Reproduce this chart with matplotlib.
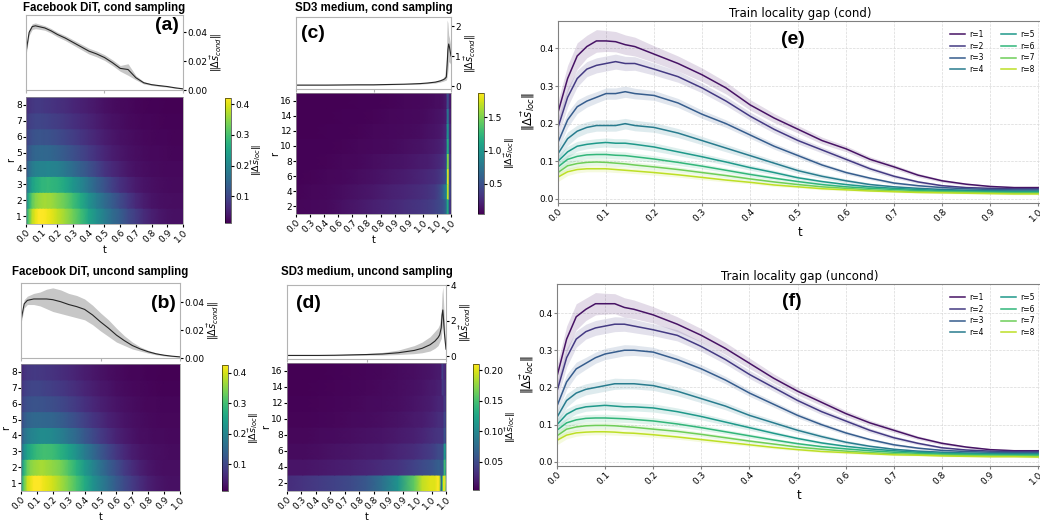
import numpy as np
import matplotlib
matplotlib.use("Agg")
import matplotlib.pyplot as plt

# ---------------------------------------------------------------------------
# data
# ---------------------------------------------------------------------------
t = [0.0, 0.02, 0.04, 0.06, 0.08, 0.10, 0.12, 0.14, 0.16, 0.20, 0.25, 0.30, 0.35,
     0.40, 0.45, 0.50, 0.55, 0.60, 0.65, 0.70, 0.75, 0.80, 0.85, 0.90, 0.95, 1.00]
radii = [1, 2, 3, 4, 5, 6, 7, 8]

# train locality gap, cond (also the DiT cond heatmap)
gap_cond_r1 = [0.23, 0.32, 0.38, 0.405, 0.42, 0.42, 0.418, 0.41, 0.405, 0.385, 0.36, 0.33, 0.295,
               0.25, 0.215, 0.185, 0.155, 0.133, 0.105, 0.085, 0.063, 0.048, 0.039, 0.033, 0.03, 0.03]
gap_cond_r2 = [0.19, 0.27, 0.32, 0.345, 0.355, 0.36, 0.365, 0.36, 0.36, 0.345, 0.325, 0.295, 0.26,
               0.22, 0.185, 0.155, 0.13, 0.105, 0.08, 0.06, 0.045, 0.035, 0.03, 0.028, 0.027, 0.027]
gap_cond_r3 = [0.15, 0.21, 0.245, 0.26, 0.27, 0.28, 0.28, 0.285, 0.28, 0.275, 0.255, 0.225, 0.2,
               0.17, 0.14, 0.115, 0.09, 0.07, 0.055, 0.042, 0.035, 0.03, 0.027, 0.025, 0.024, 0.024]
gap_cond_r4 = [0.12, 0.16, 0.18, 0.19, 0.195, 0.195, 0.195, 0.2, 0.195, 0.19, 0.175, 0.155, 0.135,
               0.115, 0.095, 0.075, 0.06, 0.048, 0.038, 0.032, 0.028, 0.025, 0.023, 0.022, 0.021, 0.021]
gap_cond_r5 = [0.10, 0.125, 0.14, 0.145, 0.148, 0.15, 0.148, 0.148, 0.145, 0.138, 0.125, 0.112, 0.098,
               0.083, 0.07, 0.056, 0.046, 0.038, 0.032, 0.028, 0.025, 0.022, 0.021, 0.02, 0.019, 0.019]
gap_cond_r6 = [0.085, 0.105, 0.113, 0.117, 0.118, 0.118, 0.116, 0.115, 0.112, 0.106, 0.097, 0.087, 0.076,
               0.065, 0.055, 0.046, 0.038, 0.032, 0.028, 0.025, 0.022, 0.02, 0.019, 0.018, 0.017, 0.017]
gap_cond_r7 = [0.07, 0.088, 0.094, 0.097, 0.098, 0.097, 0.095, 0.093, 0.09, 0.085, 0.078, 0.07, 0.062,
               0.053, 0.045, 0.038, 0.032, 0.028, 0.024, 0.021, 0.019, 0.018, 0.017, 0.016, 0.015, 0.015]
gap_cond_r8 = [0.058, 0.072, 0.078, 0.08, 0.08, 0.08, 0.078, 0.076, 0.074, 0.07, 0.064, 0.057, 0.05,
               0.044, 0.037, 0.032, 0.027, 0.024, 0.021, 0.019, 0.017, 0.016, 0.015, 0.014, 0.013, 0.013]

# train locality gap, uncond (also the DiT uncond heatmap)
gap_uncond_r1 = [0.23, 0.33, 0.39, 0.41, 0.425, 0.425, 0.425, 0.415, 0.41, 0.395, 0.37, 0.34, 0.305,
                 0.265, 0.225, 0.19, 0.16, 0.13, 0.105, 0.085, 0.065, 0.05, 0.04, 0.033, 0.03, 0.03]
gap_uncond_r2 = [0.19, 0.28, 0.33, 0.35, 0.36, 0.365, 0.37, 0.37, 0.365, 0.355, 0.34, 0.31, 0.275,
                 0.235, 0.2, 0.165, 0.135, 0.11, 0.085, 0.065, 0.05, 0.038, 0.032, 0.029, 0.028, 0.028]
gap_uncond_r3 = [0.15, 0.215, 0.25, 0.265, 0.28, 0.29, 0.295, 0.3, 0.3, 0.295, 0.275, 0.25, 0.22,
                 0.185, 0.155, 0.125, 0.1, 0.078, 0.06, 0.046, 0.037, 0.031, 0.028, 0.026, 0.025, 0.025]
gap_uncond_r4 = [0.12, 0.165, 0.185, 0.195, 0.2, 0.205, 0.21, 0.21, 0.21, 0.205, 0.19, 0.17, 0.15,
                 0.125, 0.105, 0.085, 0.068, 0.053, 0.042, 0.034, 0.029, 0.026, 0.024, 0.023, 0.022, 0.022]
gap_uncond_r5 = [0.10, 0.128, 0.142, 0.148, 0.15, 0.152, 0.15, 0.148, 0.148, 0.145, 0.135, 0.122, 0.107,
                 0.092, 0.077, 0.063, 0.051, 0.042, 0.035, 0.03, 0.026, 0.023, 0.022, 0.021, 0.02, 0.02]
gap_uncond_r6 = [0.085, 0.105, 0.113, 0.117, 0.118, 0.118, 0.117, 0.116, 0.114, 0.11, 0.102, 0.092, 0.081,
                 0.07, 0.059, 0.049, 0.041, 0.035, 0.03, 0.026, 0.023, 0.021, 0.02, 0.019, 0.018, 0.018]
gap_uncond_r7 = [0.07, 0.088, 0.094, 0.097, 0.098, 0.098, 0.097, 0.095, 0.093, 0.088, 0.082, 0.074, 0.065,
                 0.056, 0.048, 0.04, 0.034, 0.029, 0.025, 0.022, 0.02, 0.018, 0.017, 0.016, 0.016, 0.015]
gap_uncond_r8 = [0.058, 0.072, 0.078, 0.08, 0.081, 0.081, 0.08, 0.078, 0.077, 0.073, 0.067, 0.06, 0.053,
                 0.046, 0.039, 0.033, 0.028, 0.025, 0.022, 0.019, 0.018, 0.016, 0.015, 0.014, 0.014, 0.013]

# spread of the shaded bands (same for cond / uncond)
gap_std_r1 = [0.03, 0.035, 0.035, 0.03, 0.03, 0.028, 0.027, 0.026, 0.025, 0.022, 0.02, 0.018, 0.016,
              0.014, 0.012, 0.01, 0.009, 0.008, 0.007, 0.006, 0.005, 0.004, 0.003, 0.003, 0.003, 0.003]
gap_std_r2 = [0.025, 0.025, 0.022, 0.02, 0.02, 0.02, 0.02, 0.019, 0.018, 0.016, 0.015, 0.013, 0.012,
              0.011, 0.01, 0.009, 0.008, 0.007, 0.006, 0.005, 0.004, 0.003, 0.003, 0.003, 0.003, 0.003]
gap_std_r3 = [0.02, 0.02, 0.018, 0.016, 0.015, 0.015, 0.015, 0.015, 0.014, 0.013, 0.012, 0.011, 0.01,
              0.009, 0.008, 0.007, 0.006, 0.005, 0.004, 0.004, 0.003, 0.003, 0.003, 0.003, 0.003, 0.003]
gap_std_r4 = [0.018, 0.018, 0.016, 0.015, 0.015, 0.015, 0.015, 0.014, 0.014, 0.013, 0.012, 0.011, 0.01,
              0.009, 0.008, 0.007, 0.006, 0.005, 0.004, 0.003, 0.003, 0.003, 0.003, 0.002, 0.002, 0.002]
gap_std_r5 = [0.016, 0.015, 0.013, 0.012, 0.012, 0.012, 0.012, 0.012, 0.011, 0.011, 0.01, 0.009, 0.008,
              0.007, 0.006, 0.005, 0.004, 0.004, 0.003, 0.003, 0.003, 0.002, 0.002, 0.002, 0.002, 0.002]
gap_std_r6 = [0.014, 0.012, 0.011, 0.01, 0.01, 0.01, 0.01, 0.01, 0.009, 0.009, 0.008, 0.007, 0.006,
              0.006, 0.005, 0.004, 0.004, 0.003, 0.003, 0.002, 0.002, 0.002, 0.002, 0.002, 0.002, 0.002]
gap_std_r7 = [0.013, 0.011, 0.01, 0.009, 0.009, 0.009, 0.009, 0.008, 0.008, 0.008, 0.007, 0.006, 0.006,
              0.005, 0.004, 0.004, 0.003, 0.003, 0.003, 0.002, 0.002, 0.002, 0.002, 0.002, 0.002, 0.002]
gap_std_r8 = [0.012, 0.01, 0.009, 0.008, 0.008, 0.008, 0.008, 0.007, 0.007, 0.007, 0.006, 0.006, 0.005,
              0.004, 0.004, 0.003, 0.003, 0.003, 0.002, 0.002, 0.002, 0.002, 0.002, 0.002, 0.002, 0.002]

gap_cond = [gap_cond_r1, gap_cond_r2, gap_cond_r3, gap_cond_r4,
            gap_cond_r5, gap_cond_r6, gap_cond_r7, gap_cond_r8]
gap_uncond = [gap_uncond_r1, gap_uncond_r2, gap_uncond_r3, gap_uncond_r4,
              gap_uncond_r5, gap_uncond_r6, gap_uncond_r7, gap_uncond_r8]
gap_std = [gap_std_r1, gap_std_r2, gap_std_r3, gap_std_r4,
           gap_std_r5, gap_std_r6, gap_std_r7, gap_std_r8]

# DiT conditional score gap
dit_cond_mean = [0.026, 0.04, 0.044, 0.0445, 0.044, 0.0435, 0.043, 0.042, 0.041, 0.0385, 0.036, 0.033, 0.03,
                 0.027, 0.025, 0.0225, 0.019, 0.015, 0.0142, 0.0085, 0.005, 0.0037, 0.003, 0.0024, 0.0015, 0.0008]
dit_cond_std = [0.002, 0.002, 0.002, 0.002, 0.0018, 0.0017, 0.0016, 0.0016, 0.0016, 0.0016, 0.0017, 0.0018, 0.0019,
                0.002, 0.002, 0.002, 0.002, 0.002, 0.004, 0.0015, 0.0008, 0.0005, 0.0005, 0.0004, 0.0003, 0.0002]
dit_uncond_mean = [0.027, 0.039, 0.0415, 0.042, 0.0425, 0.0425, 0.0425, 0.0425, 0.0425, 0.042, 0.0405, 0.0385, 0.037,
                   0.035, 0.031, 0.026, 0.0215, 0.0165, 0.0125, 0.009, 0.0065, 0.0045, 0.003, 0.002, 0.0013, 0.0008]
dit_uncond_std = [0.002, 0.003, 0.003, 0.0035, 0.004, 0.0045, 0.005, 0.006, 0.007, 0.0085, 0.0085, 0.008, 0.008,
                  0.0075, 0.007, 0.0065, 0.006, 0.005, 0.0035, 0.0025, 0.0015, 0.001, 0.0007, 0.0005, 0.0003, 0.0002]

# SD3 (x is the sampling-step position, labels are the actual t values)
sd3_x = [0.0, 0.1, 0.2, 0.3, 0.4, 0.5, 0.6, 0.7, 0.8, 0.85, 0.9, 0.93, 0.95, 0.96, 0.97,
         0.975, 0.98, 0.985, 0.99, 1.0]
sd3_tick_labels = ["0.0", "0.3", "0.4", "0.6", "0.7", "0.8", "0.8", "0.9", "0.9", "1.0", "1.0", "1.0"]
sd3_radii = [2, 4, 6, 8, 10, 12, 14, 16]

sd3_cond_mean = [0.03, 0.03, 0.03, 0.035, 0.04, 0.04, 0.05, 0.06, 0.08, 0.1, 0.13, 0.17, 0.21, 0.24, 0.3,
                 0.7, 1.2, 1.4, 1.3, 1.0]
sd3_cond_lo = [0.02, 0.02, 0.02, 0.025, 0.03, 0.03, 0.04, 0.05, 0.06, 0.08, 0.1, 0.13, 0.16, 0.18, 0.2,
               0.3, 0.5, 0.8, 0.8, 0.7]
sd3_cond_hi = [0.04, 0.04, 0.04, 0.045, 0.05, 0.05, 0.06, 0.07, 0.1, 0.12, 0.16, 0.21, 0.27, 0.35, 0.9,
               2.2, 2.1, 1.7, 1.6, 1.3]
sd3_uncond_mean = [0.05, 0.05, 0.05, 0.06, 0.08, 0.1, 0.13, 0.2, 0.33, 0.45, 0.65, 0.85, 1.05, 1.2, 1.6,
                   2.3, 2.6, 2.0, 1.3, 0.4]
sd3_uncond_lo = [0.04, 0.04, 0.04, 0.04, 0.05, 0.06, 0.07, 0.1, 0.15, 0.2, 0.3, 0.45, 0.6, 0.8, 1.0,
                 1.5, 1.8, 1.3, 0.8, 0.3]
sd3_uncond_hi = [0.06, 0.06, 0.07, 0.09, 0.12, 0.16, 0.22, 0.35, 0.6, 0.8, 1.1, 1.4, 1.6, 1.8, 2.5,
                 3.5, 3.9, 3.0, 2.0, 0.5]

sd3_cond_map = [
    [0.07, 0.08, 0.09, 0.12, 0.16, 0.2, 0.24, 0.28, 0.32, 0.35, 0.4, 0.45, 0.5, 0.55, 0.7, 0.9, 1.2, 1.0, 0.4, 0.25],
    [0.06, 0.07, 0.08, 0.1, 0.13, 0.16, 0.2, 0.23, 0.27, 0.3, 0.35, 0.45, 0.6, 0.75, 0.8, 1.2, 1.8, 1.6, 0.5, 0.3],
    [0.05, 0.06, 0.07, 0.08, 0.1, 0.12, 0.15, 0.18, 0.22, 0.25, 0.28, 0.33, 0.4, 0.45, 0.5, 1.2, 1.87, 1.7, 0.45, 0.3],
    [0.05, 0.05, 0.06, 0.07, 0.08, 0.1, 0.12, 0.14, 0.17, 0.19, 0.22, 0.26, 0.3, 0.35, 0.4, 1.0, 1.6, 1.5, 0.4, 0.25],
    [0.05, 0.05, 0.05, 0.06, 0.07, 0.08, 0.09, 0.11, 0.13, 0.15, 0.17, 0.2, 0.24, 0.28, 0.32, 0.8, 1.2, 1.1, 0.35, 0.2],
    [0.04, 0.04, 0.05, 0.05, 0.06, 0.07, 0.08, 0.09, 0.1, 0.12, 0.14, 0.16, 0.2, 0.22, 0.25, 0.7, 1.0, 0.9, 0.3, 0.2],
    [0.04, 0.04, 0.04, 0.05, 0.05, 0.06, 0.07, 0.08, 0.09, 0.1, 0.12, 0.14, 0.16, 0.18, 0.2, 0.5, 0.8, 0.7, 0.25, 0.15],
    [0.04, 0.04, 0.04, 0.04, 0.05, 0.05, 0.06, 0.07, 0.08, 0.09, 0.1, 0.11, 0.13, 0.15, 0.17, 0.35, 0.5, 0.45, 0.2, 0.12],
]
sd3_uncond_map = [
    [0.03, 0.035, 0.04, 0.045, 0.05, 0.06, 0.08, 0.11, 0.16, 0.19, 0.2, 0.2, 0.21, 0.2, 0.1, 0.06, 0.15, 0.2, 0.21, 0.15],
    [0.015, 0.015, 0.017, 0.02, 0.022, 0.025, 0.03, 0.035, 0.045, 0.05, 0.055, 0.06, 0.065, 0.065, 0.06, 0.06, 0.06, 0.08, 0.15, 0.1],
    [0.01, 0.01, 0.012, 0.014, 0.016, 0.018, 0.02, 0.025, 0.03, 0.035, 0.04, 0.045, 0.05, 0.05, 0.05, 0.05, 0.05, 0.06, 0.12, 0.08],
    [0.008, 0.008, 0.009, 0.01, 0.012, 0.013, 0.015, 0.018, 0.022, 0.025, 0.03, 0.033, 0.035, 0.035, 0.035, 0.035, 0.035, 0.04, 0.06, 0.04],
    [0.006, 0.006, 0.007, 0.008, 0.009, 0.01, 0.012, 0.014, 0.018, 0.02, 0.024, 0.027, 0.03, 0.03, 0.03, 0.03, 0.03, 0.035, 0.05, 0.035],
    [0.005, 0.005, 0.006, 0.007, 0.008, 0.009, 0.01, 0.012, 0.015, 0.017, 0.02, 0.023, 0.025, 0.025, 0.025, 0.025, 0.025, 0.03, 0.04, 0.03],
    [0.004, 0.004, 0.005, 0.006, 0.007, 0.008, 0.009, 0.011, 0.013, 0.015, 0.018, 0.02, 0.022, 0.022, 0.022, 0.03, 0.04, 0.035, 0.035, 0.025],
    [0.004, 0.004, 0.004, 0.005, 0.006, 0.007, 0.008, 0.01, 0.012, 0.013, 0.015, 0.017, 0.018, 0.018, 0.02, 0.035, 0.045, 0.03, 0.03, 0.02],
]

W, H = 1040, 521
TITLE_FONT = ["Liberation Sans", "DejaVu Sans"]
LOC_LABEL = r"$\|\Delta\vec{s}_{loc}\|$"
COND_LABEL = r"$\|\Delta\vec{s}_{cond}\|$"
SMALL = 6.5


def box(x0, y0, x1, y1):
    """pixel box (top-left origin) -> figure fraction rect"""
    return [x0 / W, 1 - y1 / H, (x1 - x0) / W, (y1 - y0) / H]


def row_heatmap(ax, xs, rows, rvals, half):
    """one gouraud strip per row: smooth along x, sharp between rows"""
    vmin = min(min(r) for r in rows)
    vmax = max(max(r) for r in rows)
    mesh = None
    for r, vals in zip(rvals, rows):
        X = np.array([xs, xs])
        Y = np.array([[r - half] * len(xs), [r + half] * len(xs)])
        C = np.array([vals, vals])
        mesh = ax.pcolormesh(X, Y, C, shading="gouraud", cmap="viridis",
                             vmin=vmin, vmax=vmax, antialiased=False, edgecolors="none")
    return mesh


def style_line_ax(ax):
    for s in ax.spines.values():
        s.set_color("0.7")
        s.set_linewidth(0.8)
    ax.yaxis.tick_right()
    ax.yaxis.set_label_position("right")
    ax.tick_params(axis="x", labelbottom=False, length=2, color="0.7")
    ax.tick_params(axis="y", labelsize=SMALL, length=2, pad=1)
    ax.set_xlim(0, 1)


def style_heat_ax(ax, cbar_ax, mesh, cbar_ticks):
    for s in ax.spines.values():
        s.set_linewidth(0.5)
        s.set_color("0.6")
    ax.tick_params(labelsize=SMALL, length=2, pad=1)
    plt.setp(ax.get_xticklabels(), rotation=45, ha="right", rotation_mode="anchor")
    ax.set_xlabel("t", fontsize=7, labelpad=0)
    ax.set_ylabel("r", fontsize=7, labelpad=0)
    cb = plt.colorbar(mesh, cax=cbar_ax)
    cb.set_ticks(cbar_ticks)
    cb.ax.tick_params(labelsize=SMALL, length=2, pad=1)
    cb.outline.set_linewidth(0.4)
    cb.set_label(LOC_LABEL, fontsize=6.8, labelpad=0.5)


fig = plt.figure(figsize=(10.4, 5.21), dpi=100)

# ========================================================================
# Facebook DiT panels (a) / (b)
# ========================================================================
dit_panels = [
    ("Facebook DiT, cond sampling", "(a)", dit_cond_mean, dit_cond_std, gap_cond,
     (26, 15, 183, 90), (26, 97, 183, 224), (225, 98, 231, 223), 0.052, 8, (167, 26)),
    ("Facebook DiT, uncond sampling", "(b)", dit_uncond_mean, dit_uncond_std, gap_uncond,
     (21, 283, 180, 358), (21, 364, 180, 491), (222, 365, 228, 491), 0.054, 272, (163, 304)),
]
for title, tag, mean, std, gap, lbox, hbox, cbox, ytop, ytitle, tagpos in dit_panels:
    ax_l = fig.add_axes(box(*lbox))
    mean = np.array(mean)
    std = np.array(std)
    ax_l.fill_between(t, mean - std, mean + std, color="0.78", lw=0)
    ax_l.plot(t, mean, color="0.15", lw=0.8)
    style_line_ax(ax_l)
    ax_l.set_ylim(0, ytop)
    ax_l.set_yticks([0.0, 0.02, 0.04])
    ax_l.set_ylabel(COND_LABEL, fontsize=7, labelpad=1)

    ax_h = fig.add_axes(box(*hbox))
    mesh = row_heatmap(ax_h, t, gap, radii, 0.5)
    ax_h.set_xlim(0, 1)
    ax_h.set_ylim(0.5, 8.5)
    ax_h.set_xticks(np.round(np.arange(0, 1.01, 0.1), 1))
    ax_h.set_yticks(radii)
    cax = fig.add_axes(box(*cbox))
    style_heat_ax(ax_h, cax, mesh, [0.1, 0.2, 0.3, 0.4])

    fig.text((lbox[0] + lbox[2]) / 2 / W, 1 - ytitle / H, title, ha="center", va="center",
             fontsize=8.3, fontweight="bold", family=TITLE_FONT)
    fig.text(tagpos[0] / W, 1 - tagpos[1] / H, tag, ha="center", va="center",
             fontsize=14, fontweight="bold", family=TITLE_FONT)

# ========================================================================
# SD3 panels (c) / (d)
# ========================================================================
sd3_panels = [
    ("SD3 medium, cond sampling", "(c)", sd3_cond_mean, sd3_cond_lo, sd3_cond_hi, sd3_cond_map,
     (296, 17, 451, 89), (296, 93, 451, 214), (478, 93, 484, 214), (-0.1, 2.3), [0, 1, 2],
     [0.5, 1.0, 1.5], 8, (313, 33)),
    ("SD3 medium, uncond sampling", "(d)", sd3_uncond_mean, sd3_uncond_lo, sd3_uncond_hi, sd3_uncond_map,
     (287, 285, 446, 359), (287, 363, 446, 491), (473, 364, 479, 490), (-0.15, 4.0), [0, 2, 4],
     [0.05, 0.10, 0.15, 0.20], 272, (308, 303)),
]
for (title, tag, mean, lo, hi, hmap, lbox, hbox, cbox, ylim, yticks,
     cticks, ytitle, tagpos) in sd3_panels:
    ax_l = fig.add_axes(box(*lbox))
    ax_l.fill_between(sd3_x, lo, hi, color="0.78", lw=0)
    ax_l.plot(sd3_x, mean, color="0.15", lw=0.8)
    style_line_ax(ax_l)
    ax_l.set_ylim(*ylim)
    ax_l.set_yticks(yticks)
    ax_l.set_ylabel(COND_LABEL, fontsize=7, labelpad=1)

    ax_h = fig.add_axes(box(*hbox))
    mesh = row_heatmap(ax_h, sd3_x, hmap, sd3_radii, 1.0)
    ax_h.set_xlim(0, 1)
    ax_h.set_ylim(1, 17)
    ax_h.set_xticks(np.linspace(0, 1, len(sd3_tick_labels)))
    ax_h.set_xticklabels(sd3_tick_labels)
    ax_h.set_yticks(sd3_radii)
    cax = fig.add_axes(box(*cbox))
    style_heat_ax(ax_h, cax, mesh, cticks)

    fig.text((lbox[0] + lbox[2]) / 2 / W, 1 - ytitle / H, title, ha="center", va="center",
             fontsize=8.3, fontweight="bold", family=TITLE_FONT)
    fig.text(tagpos[0] / W, 1 - tagpos[1] / H, tag, ha="center", va="center",
             fontsize=14, fontweight="bold", family=TITLE_FONT)

# ========================================================================
# Train locality gap panels (e) / (f)
# ========================================================================
colors = plt.cm.viridis(np.linspace(0.05, 0.9, len(radii)))
gap_panels = [
    ("Train locality gap (cond)", "(e)", gap_cond, (558, 21, 1042, 203), (-0.011, 0.473), (793, 39)),
    ("Train locality gap (uncond)", "(f)", gap_uncond, (557, 284, 1042, 466), (-0.011, 0.478), (792, 302)),
]
for title, tag, gap, gbox, ylim, tagpos in gap_panels:
    ax = fig.add_axes(box(*gbox))
    for r, vals, sd, c in zip(radii, gap, gap_std, colors):
        vals = np.array(vals)
        sd = np.array(sd)
        ax.fill_between(t, vals - sd, vals + sd, color=c, alpha=0.15, lw=0)
        ax.plot(t, vals, color=c, lw=1.1, label=f"r={r}")
    ax.set_xlim(0, 1.008)
    ax.set_ylim(*ylim)
    ax.set_xticks(np.round(np.arange(0, 1.01, 0.1), 1))
    ax.set_yticks([0.0, 0.1, 0.2, 0.3, 0.4])
    ax.grid(True, ls="--", lw=0.5, color="0.85")
    ax.set_axisbelow(True)
    for s in ax.spines.values():
        s.set_color("0.5")
        s.set_linewidth(0.8)
    ax.spines["right"].set_visible(False)
    ax.tick_params(labelsize=6.5, length=2, pad=1, color="0.5")
    plt.setp(ax.get_xticklabels(), rotation=45, ha="right", rotation_mode="anchor")
    ax.set_xlabel("t", fontsize=8.5, labelpad=2)
    ax.set_ylabel(LOC_LABEL, fontsize=8.5, labelpad=2)
    ax.set_title(title, fontsize=8.5, pad=3)
    ax.legend(ncol=2, fontsize=5.5, frameon=False, loc="upper left",
              bbox_to_anchor=(0.797, 0.985), handlelength=2.0, handletextpad=0.5,
              columnspacing=2.3, labelspacing=0.35, borderpad=0.3)
    fig.text(tagpos[0] / W, 1 - tagpos[1] / H, tag, ha="center", va="center",
             fontsize=14, fontweight="bold", family=TITLE_FONT)

fig.savefig("out.png", dpi=100, facecolor="white")
